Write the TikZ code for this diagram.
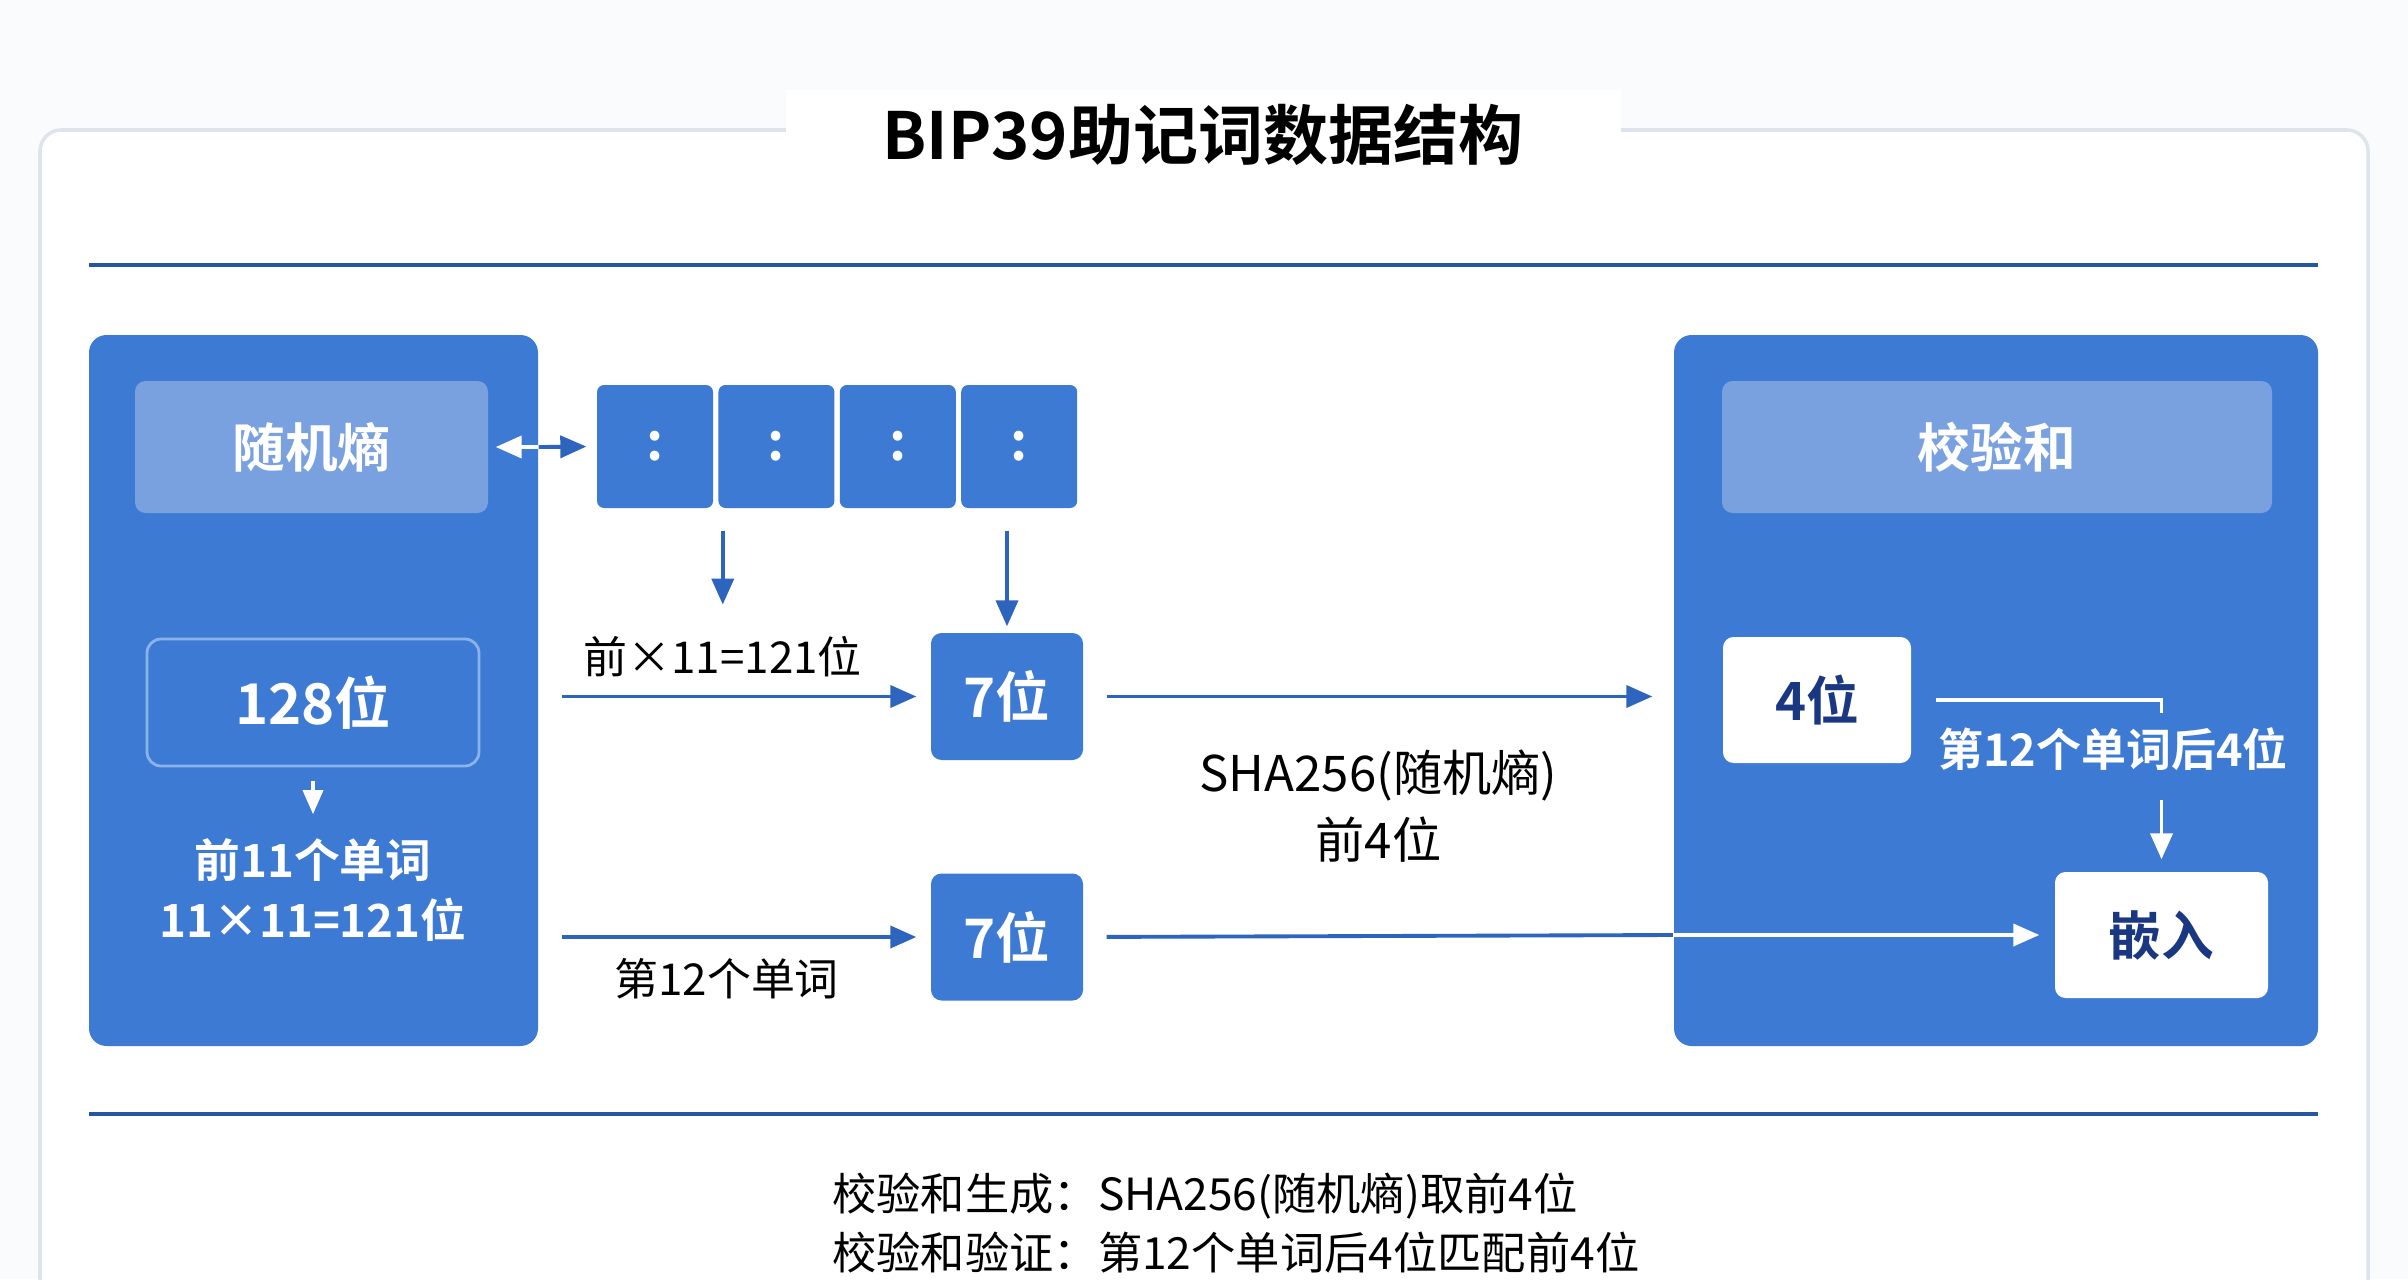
\documentclass[tikz,border=0pt]{standalone}
\usepackage{fontspec}
\setmainfont{Noto Sans CJK SC}[BoldFont={Noto Sans CJK SC Bold}]
\usepackage{tikz}
\usetikzlibrary{arrows.meta,positioning,calc}
\definecolor{panelblue}{RGB}{61,122,212}
\definecolor{headblue}{RGB}{121,161,224}
\definecolor{edgeblue}{RGB}{140,178,236}
\definecolor{lineblue}{RGB}{38,86,160}
\definecolor{arrowblue}{RGB}{45,100,190}
\definecolor{navytext}{RGB}{26,56,130}
\definecolor{framegray}{RGB}{222,228,236}
\definecolor{pagegray}{RGB}{250,251,252}
\tikzset{
  panel/.style={fill=panelblue, rounded corners=5pt, minimum height=7.11cm},
  headbox/.style={fill=headblue, rounded corners=3pt, minimum height=1.32cm,
    text=white, font=\bfseries\fontsize{15}{18}\selectfont},
  sizebox/.style={draw=edgeblue, line width=0.8pt, fill=panelblue, rounded corners=4pt,
    minimum width=3.32cm, minimum height=1.27cm, text=white, font=\bfseries\fontsize{16}{19}\selectfont},
  cellbox/.style={fill=panelblue, rounded corners=2pt, minimum width=1.16cm,
    minimum height=1.23cm, text=white, font=\bfseries\fontsize{15}{18}\selectfont},
  bitbox/.style={fill=panelblue, rounded corners=3pt, minimum width=1.52cm,
    minimum height=1.27cm, text=white, font=\bfseries\fontsize{15.5}{18}\selectfont},
  whitebox/.style={fill=white, rounded corners=3pt, minimum height=1.26cm,
    text=navytext, font=\bfseries\fontsize{15}{18}\selectfont},
  lbl/.style={text=black, align=center, font=\fontsize{12.5}{17}\selectfont},
  wlbl/.style={text=white, align=center, font=\bfseries\fontsize{12.8}{16}\selectfont},
  flow/.style={-{Triangle[length=2.6mm,width=2.2mm]}, line width=1.1pt, draw=arrowblue},
  whiteflow/.style={-{Triangle[length=2.6mm,width=2.2mm]}, line width=1.1pt, draw=white},
  sepline/.style={draw=lineblue, line width=1.3pt}
}

\begin{document}
\begin{tikzpicture}
\useasboundingbox[fill=pagegray] (0,0) rectangle (24.08,-12.79);
\draw[framegray, fill=white, line width=1pt, rounded corners=6pt] (0.40,-1.30) rectangle (23.68,-13.40);
\node[fill=white, minimum width=8.35cm, minimum height=0.9cm,
  font=\bfseries\fontsize{18.5}{22}\selectfont] (title) at (12.03,-1.35) {BIP39助记词数据结构};
\draw[sepline] (0.89,-2.65) -- (23.18,-2.65);
\draw[sepline] (0.89,-11.14) -- (23.18,-11.14);

% left panel
\node[panel, minimum width=4.49cm] (entpanel) at (3.135,-6.905) {};
\node[headbox, minimum width=3.53cm] (ent) at (3.115,-4.47) {随机熵};
\node[sizebox] (bits) at (3.13,-7.025) {128位};
\node[wlbl, font=\bfseries\fontsize{13}{17}\selectfont] (words) at (3.13,-8.90) {前11个单词\\11×11=121位};
\draw[-{Triangle[length=2.4mm,width=2mm]}, line width=1pt, white, shorten <=1.4mm, shorten >=1.2mm] (bits.south) -- (words.north);

% word cells
\node[cellbox] (cell1) at (6.55,-4.465) {:};
\node[cellbox, right=0.04cm of cell1] (cell2) {:};
\node[cellbox, right=0.04cm of cell2] (cell3) {:};
\node[cellbox, right=0.04cm of cell3] (cell4) {:};
\coordinate (split) at (entpanel.east |- ent.east);
\draw[whiteflow, shorten >=0.7mm] (split) -- (ent.east);
\draw[flow, shorten >=1mm] (split) -- (cell1.west);

% 7-bit groups
\node[bitbox] (sevenA) at (10.07,-6.965) {7位};
\node[bitbox] (sevenB) at (10.07,-9.37) {7位};
\draw[flow, shorten <=2.3mm, shorten >=1.4mm] (entpanel.east |- sevenA) --
  node[lbl, above=0.6mm, pos=0.47] (lblA) {前×11=121位} (sevenA.west);
\draw[flow, shorten <=2.3mm, shorten >=1.4mm] (entpanel.east |- sevenB) --
  node[lbl, below=0.8mm, pos=0.48] (lblB) {第12个单词} (sevenB.west);
\draw[flow, shorten <=2.2mm, shorten >=1.8mm] (lblA |- cell2.south) -- (lblA.north);
\draw[flow, shorten <=2.2mm, shorten >=0.6mm] (sevenA |- cell4.south) -- (sevenA.north);

% right panel
\node[panel, minimum width=6.44cm] (sumpanel) at (19.96,-6.905) {};
\node[headbox, minimum width=5.5cm] (sum) at (19.97,-4.47) {校验和};
\node[whitebox, minimum width=1.88cm] (four) at (18.17,-7.0) {4位};
\node[whitebox, minimum width=2.13cm] (embed) at (21.615,-9.35) {嵌入};
\draw[flow, shorten <=2.3mm, shorten >=2.1mm] (sevenA.east) --
  node[lbl, below=4mm, font=\fontsize{14}{19}\selectfont] (hash) {SHA256(随机熵)\\前4位} (sumpanel.west |- sevenA);
\draw[arrowblue, line width=1.1pt, shorten <=2.3mm] (sevenB.east) -- (sumpanel.west |- embed);
\draw[whiteflow, shorten >=1.5mm] (sumpanel.west |- embed) -- (embed.west);
\node[wlbl] (tail) at (21.13,-7.49) {第12个单词后4位};
\draw[white, line width=1.1pt, shorten <=2.4mm] (four.east) -- (four.east -| embed) -- ++(0,-0.13);
\draw[whiteflow, shorten <=1.7mm, shorten >=1.2mm] (tail.south -| embed) -- (embed.north);

% notes
\node[anchor=west, align=left, text=black, font=\fontsize{12.6}{17}\selectfont] (notes) at (8.20,-12.23)
  {校验和生成：SHA256(随机熵)取前4位\\校验和验证：第12个单词后4位匹配前4位};
\end{tikzpicture}
\end{document}
